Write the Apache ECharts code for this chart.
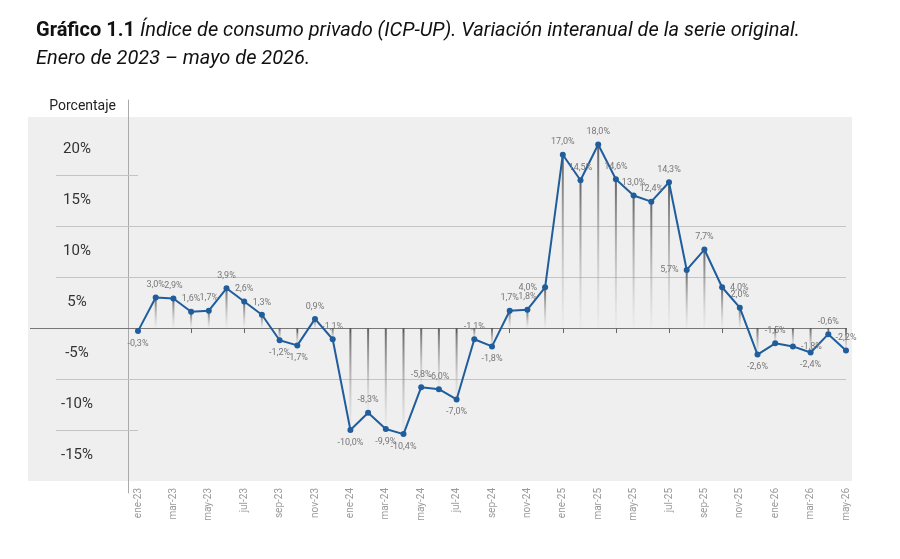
<!DOCTYPE html>
<html>
<head>
<meta charset="utf-8">
<script src="https://cdn.jsdelivr.net/npm/echarts@6/dist/echarts.min.js"></script>
<style>
  html, body { margin: 0; padding: 0; background: #fff; }
  #chart_01 { width: 900px; height: 559px; }
</style>
</head>
<body>
<div id="chart_01"></div>
<script>
// meses ene-23 .. may-26
var meses = [
  'ene-23','feb-23','mar-23','abr-23','may-23','jun-23','jul-23','ago-23','sep-23','oct-23','nov-23','dic-23',
  'ene-24','feb-24','mar-24','abr-24','may-24','jun-24','jul-24','ago-24','sep-24','oct-24','nov-24','dic-24',
  'ene-25','feb-25','mar-25','abr-25','may-25','jun-25','jul-25','ago-25','sep-25','oct-25','nov-25','dic-25',
  'ene-26','feb-26','mar-26','abr-26','may-26'
];

// variación interanual (%)
var variacion = [
  -0.3, 3.0, 2.9, 1.6, 1.7, 3.9, 2.6, 1.3, -1.2, -1.7, 0.9, -1.1,
  -10.0, -8.3, -9.9, -10.4, -5.8, -6.0, -7.0, -1.1, -1.8, 1.7, 1.8, 4.0,
  17.0, 14.5, 18.0, 14.6, 13.0, 12.4, 14.3, 5.7, 7.7, 4.0, 2.0, -2.6,
  -1.5, -1.8, -2.4, -0.6, -2.2
];

// etiquetas del eje vertical (van centradas en cada franja)
var etiquetasY = ['20%', '15%', '10%', '5%', '-5%', '-10%', '-15%'];
var marcasY = [17.5, 12.5, 7.5, 2.5, -2.5, -7.5, -12.5];

;(function(window) {

    initChartLine();

    function fmt(v) {
        return v.toFixed(1).replace('.', ',') + '%';
    }

    function initChartLine() {

        var myChart_01 = echarts.init(document.getElementById('chart_01'));

        // posición de cada etiqueta de dato
        var posEtiqueta = [
            'bottom','top','top','top','top','top','top','top','bottom','bottom','top','top',
            'bottom','top','bottom','bottom','top','top','bottom','top','bottom','top','top','left',
            'top','top','top','top','top','top','top','left','top','right','top','bottom',
            'top','right','bottom','top','top'
        ];

        var puntos = variacion.map(function(v, i) {
            return {
                value: v,
                label: { position: posEtiqueta[i] }
            };
        });

        var gris = '#c4c4c4';
        var yMin = -15, yMax = 20.7;
        var fuente = 'Roboto, sans-serif';

        var options = {
            animation: false,
            backgroundColor: '#ffffff',
            title: {
                left: 31,
                top: 12,
                text: '{b|Gráfico 1.1} {i|Índice de consumo privado (ICP-UP). Variación interanual de la serie original.}\n{i|Enero de 2023 – mayo de 2026.}',
                textStyle: {
                    fontWeight: 'normal',
                    rich: {
                        b: { fontFamily: fuente, fontWeight: 'bold', fontSize: 20, color: '#111', lineHeight: 28 },
                        i: { fontFamily: fuente, fontWeight: 'normal', fontStyle: 'italic', fontSize: 20, color: '#111', lineHeight: 28 }
                    }
                }
            },
            graphic: [{
                type: 'rect',
                z: -10,
                shape: { x: 28, y: 117, width: 824, height: 364 },
                style: { fill: '#efefef' }
            }],
            grid: [
                { left: 138, right: 54, top: 117, bottom: 78 },
                { left: 128, right: 48, top: 100, bottom: 66 }
            ],
            xAxis: [{
                // eje en el cero
                type: 'category',
                gridIndex: 0,
                data: meses,
                boundaryGap: false,
                axisLine: { onZero: true, lineStyle: { color: '#777', width: 1 } },
                axisTick: { show: true, length: 5, lineStyle: { color: '#666' } },
                axisLabel: { show: false },
                splitLine: { show: false }
            }, {
                // etiquetas abajo
                type: 'category',
                gridIndex: 0,
                position: 'bottom',
                data: meses,
                boundaryGap: false,
                axisLine: { show: false, onZero: false },
                axisTick: { show: false },
                axisLabel: {
                    interval: 1,
                    rotate: 90,
                    margin: 7,
                    fontSize: 10,
                    color: '#999',
                    fontFamily: fuente
                },
                splitLine: { show: false }
            }, {
                type: 'value',
                gridIndex: 1,
                show: false
            }],
            yAxis: [{
                type: 'value',
                gridIndex: 0,
                position: 'left',
                min: yMin,
                max: yMax,
                interval: 5,
                axisLine: { show: false },
                axisTick: {
                    show: true,
                    length: 82,
                    customValues: [-10, -5, 5, 10, 15],
                    lineStyle: { color: gris }
                },
                axisLabel: {
                    customValues: marcasY,
                    formatter: function(v) {
                        var k = marcasY.indexOf(v);
                        return k >= 0 ? etiquetasY[k] : '';
                    },
                    align: 'center',
                    margin: 61,
                    fontSize: 15,
                    color: '#333',
                    fontFamily: fuente
                },
                splitLine: {
                    show: true,
                    showMinLine: false,
                    showMaxLine: false,
                    lineStyle: { color: gris, width: 1 }
                }
            }, {
                // prolongación de la línea del cero
                type: 'value',
                gridIndex: 0,
                position: 'left',
                offset: 0,
                min: yMin,
                max: yMax,
                interval: 5,
                axisLine: { show: false },
                axisTick: {
                    show: true,
                    length: 108,
                    customValues: [0],
                    lineStyle: { color: '#777' }
                },
                axisLabel: { show: false },
                splitLine: { show: false }
            }, {
                type: 'value',
                gridIndex: 1,
                name: 'Porcentaje',
                nameLocation: 'end',
                nameGap: -6,
                nameTextStyle: {
                    align: 'right',
                    verticalAlign: 'middle',
                    padding: [0, 12, 0, 0],
                    fontSize: 14,
                    color: '#222',
                    fontFamily: fuente
                },
                axisLine: { show: true, lineStyle: { color: '#aaa', width: 1 } },
                axisTick: { show: false },
                axisLabel: { show: false },
                splitLine: { show: false }
            }],
            series: [{
                name: 'guías',
                type: 'bar',
                xAxisIndex: 0,
                yAxisIndex: 0,
                data: variacion,
                barWidth: 2,
                silent: true,
                itemStyle: {
                    color: new echarts.graphic.LinearGradient(0, 0, 0, 1, [
                        { offset: 0, color: 'rgba(85,85,85,0.9)' },
                        { offset: 1, color: 'rgba(170,170,170,0.05)' }
                    ])
                }
            }, {
                name: 'ICP-UP',
                type: 'line',
                xAxisIndex: 0,
                yAxisIndex: 0,
                data: puntos,
                symbol: 'circle',
                symbolSize: 6,
                z: 5,
                lineStyle: { color: '#1f5d9c', width: 2 },
                itemStyle: { color: '#1f5d9c' },
                label: {
                    show: true,
                    distance: 5,
                    fontSize: 9,
                    color: '#777',
                    fontFamily: fuente,
                    formatter: function(p) { return fmt(p.value); }
                }
            }]
        };

        myChart_01.setOption(options);
    };

}(window));
</script>
</body>
</html>
